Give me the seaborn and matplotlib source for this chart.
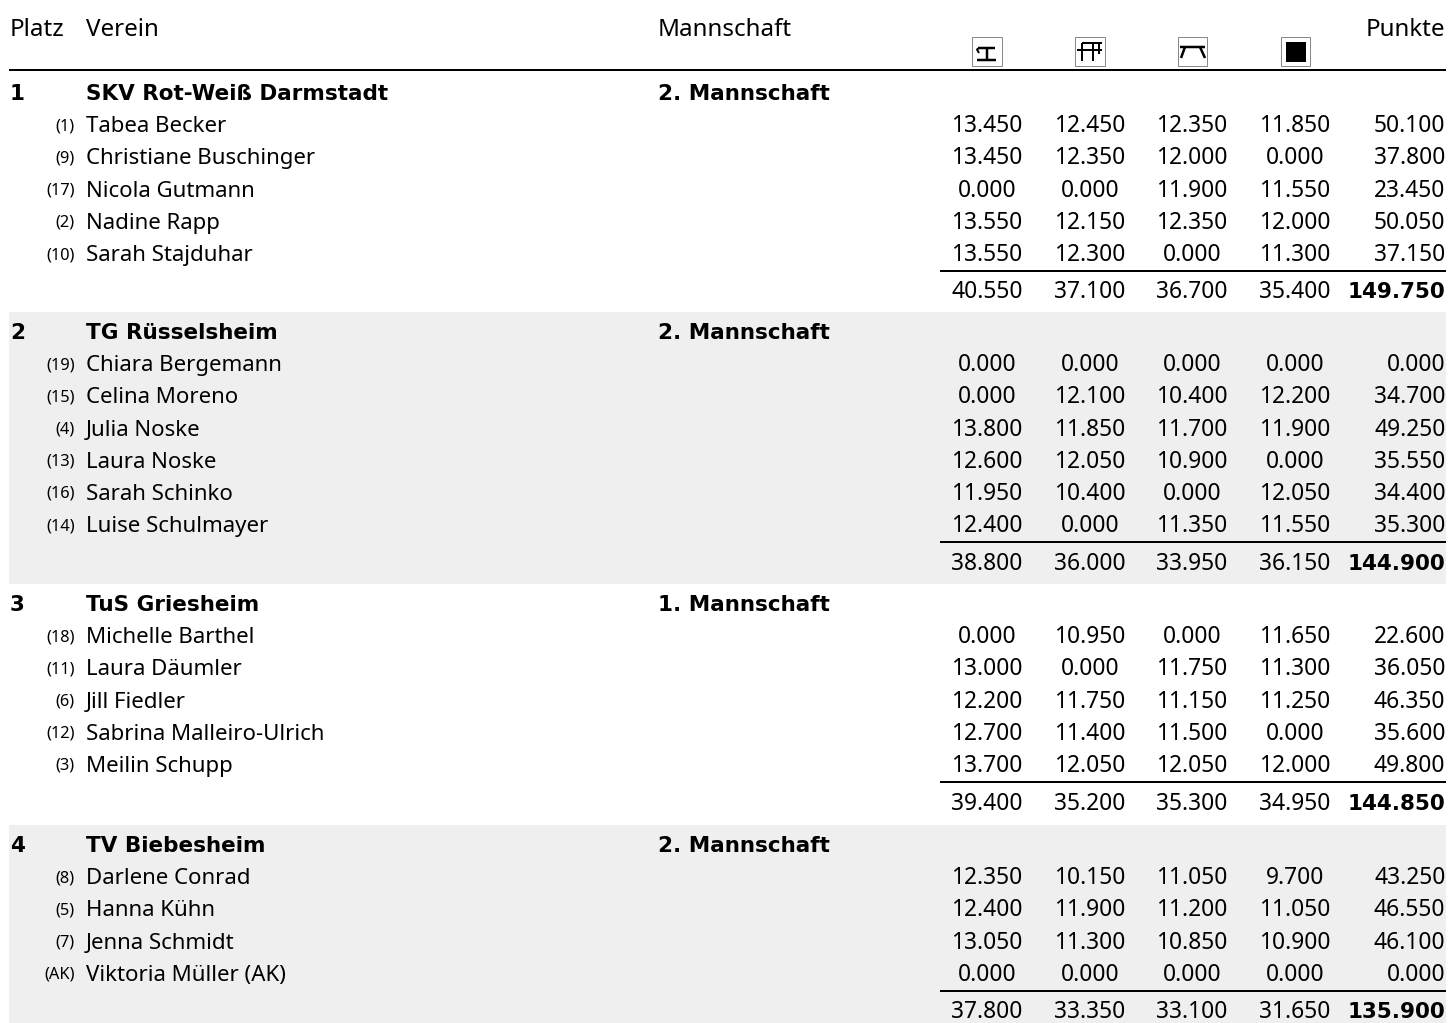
import numpy as np
import pandas as pd
import matplotlib
matplotlib.use('Agg')
import matplotlib.pyplot as plt
from matplotlib.patches import Rectangle
import seaborn as sns

# Mannschaften
places = ['1', '2', '3', '4']
clubs = ['SKV Rot-Weiß Darmstadt', 'TG Rüsselsheim', 'TuS Griesheim', 'TV Biebesheim']
squads = ['2. Mannschaft', '2. Mannschaft', '1. Mannschaft', '2. Mannschaft']

# Turnerinnen je Mannschaft
names_1 = ['Tabea Becker', 'Christiane Buschinger', 'Nicola Gutmann', 'Nadine Rapp', 'Sarah Stajduhar']
ranks_1 = ['(1)', '(9)', '(17)', '(2)', '(10)']
scores_1 = [['13.450', '12.450', '12.350', '11.850', '50.100'],
            ['13.450', '12.350', '12.000', '0.000', '37.800'],
            ['0.000', '0.000', '11.900', '11.550', '23.450'],
            ['13.550', '12.150', '12.350', '12.000', '50.050'],
            ['13.550', '12.300', '0.000', '11.300', '37.150']]
totals_1 = ['40.550', '37.100', '36.700', '35.400', '149.750']

names_2 = ['Chiara Bergemann', 'Celina Moreno', 'Julia Noske', 'Laura Noske', 'Sarah Schinko', 'Luise Schulmayer']
ranks_2 = ['(19)', '(15)', '(4)', '(13)', '(16)', '(14)']
scores_2 = [['0.000', '0.000', '0.000', '0.000', '0.000'],
            ['0.000', '12.100', '10.400', '12.200', '34.700'],
            ['13.800', '11.850', '11.700', '11.900', '49.250'],
            ['12.600', '12.050', '10.900', '0.000', '35.550'],
            ['11.950', '10.400', '0.000', '12.050', '34.400'],
            ['12.400', '0.000', '11.350', '11.550', '35.300']]
totals_2 = ['38.800', '36.000', '33.950', '36.150', '144.900']

names_3 = ['Michelle Barthel', 'Laura Däumler', 'Jill Fiedler', 'Sabrina Malleiro-Ulrich', 'Meilin Schupp']
ranks_3 = ['(18)', '(11)', '(6)', '(12)', '(3)']
scores_3 = [['0.000', '10.950', '0.000', '11.650', '22.600'],
            ['13.000', '0.000', '11.750', '11.300', '36.050'],
            ['12.200', '11.750', '11.150', '11.250', '46.350'],
            ['12.700', '11.400', '11.500', '0.000', '35.600'],
            ['13.700', '12.050', '12.050', '12.000', '49.800']]
totals_3 = ['39.400', '35.200', '35.300', '34.950', '144.850']

names_4 = ['Darlene Conrad', 'Hanna Kühn', 'Jenna Schmidt', 'Viktoria Müller (AK)']
ranks_4 = ['(8)', '(5)', '(7)', '(AK)']
scores_4 = [['12.350', '10.150', '11.050', '9.700', '43.250'],
            ['12.400', '11.900', '11.200', '11.050', '46.550'],
            ['13.050', '11.300', '10.850', '10.900', '46.100'],
            ['0.000', '0.000', '0.000', '0.000', '0.000']]
totals_4 = ['37.800', '33.350', '33.100', '31.650', '135.900']

all_names = [names_1, names_2, names_3, names_4]
all_ranks = [ranks_1, ranks_2, ranks_3, ranks_4]
all_scores = [scores_1, scores_2, scores_3, scores_4]
all_totals = [totals_1, totals_2, totals_3, totals_4]

# Layout in Pixeln
W, H = 1448, 1023
group_y = [92, 331, 603, 844]
band_ranges = [(312, 584), (825, 1023)]
row_h = 32.2
col_x = [987, 1090, 1192, 1295]
total_offset = [36.5, 38, 38, 37]
FONT = 'Noto Sans'
BOLD_FONT = 'DejaVu Sans'
FS_HEAD = 17.4
FS_NAME = 16
FS_NUM = 16.4
FS_BOLD = 15.5
FS_SMALL = 11.8

sns.set_theme(style='white')
plt.rcParams['font.family'] = [FONT, 'DejaVu Sans']

fig = plt.figure(figsize=(W / 100, H / 100), dpi=100)

# Hintergrundstreifen als Heatmap (eine Spalte, eine Zeile pro Pixel)
band = np.zeros((H, 1))
for top, bottom in band_ranges:
    band[top:bottom] = 1
band_ax = fig.add_axes([9 / W, 0, 1437 / W, 1])
sns.heatmap(pd.DataFrame(band), ax=band_ax, cmap=['#ffffff', '#efefef'], vmin=0, vmax=1,
            cbar=False, xticklabels=False, yticklabels=False)

ax = fig.add_axes([0, 0, 1, 1])
ax.set_xlim(0, W)
ax.set_ylim(H, 0)
ax.axis('off')
ax.patch.set_alpha(0)


def txt(x, y, s, size, ha='left', bold=False, up=0):
    # y ist die Zeilenmitte, Grundlinie liegt 8 px darunter
    ax.text(x, y + 8 - up, s, ha=ha, va='baseline', color='black',
            family=[BOLD_FONT] if bold else [FONT, 'DejaVu Sans'],
            fontweight='bold' if bold else 'normal', fontsize=size)


def seg(pts, lw=2.0):
    xs, ys = zip(*pts)
    ax.plot(xs, ys, color='black', lw=lw * 0.72, solid_capstyle='butt')


# Kopfzeile
txt(10, 27.5, 'Platz', FS_HEAD)
txt(86, 27.5, 'Verein', FS_HEAD)
txt(658, 27.5, 'Mannschaft', FS_HEAD)
txt(1445.5, 27.5, 'Punkte', FS_HEAD, ha='right')
seg([(9, 69.5), (1446, 69.5)], lw=2)

# Geräte-Symbole
for x0, x1 in [(972, 1002), (1075, 1105), (1178, 1207), (1281, 1310)]:
    ax.add_patch(Rectangle((x0, 37), x1 - x0, 29, fill=False, ec='#888888', lw=0.72))
seg([(978, 48), (995, 48)], 2.5)
seg([(979, 53), (977, 49.5), (979, 48)], 2)
seg([(987, 48), (987, 60)], 2.5)
seg([(977, 60), (996, 60)], 2.5)
seg([(1082, 43), (1102, 43)], 2)
seg([(1077, 50), (1102, 50)], 2)
seg([(1082, 43), (1082, 61)], 2)
seg([(1093, 43), (1093, 61)], 2)
seg([(1099, 43), (1099, 54)], 2)
seg([(1180, 47), (1205, 47)], 2.5)
seg([(1185, 47), (1181, 58)], 2.5)
seg([(1200, 47), (1205, 58)], 2.5)
ax.add_patch(Rectangle((1286, 42), 20, 20, fc='black', ec='none'))

# Tabelle
for g in range(4):
    y = group_y[g]
    txt(10, y, places[g], FS_BOLD, bold=True)
    txt(86, y, clubs[g], FS_BOLD, bold=True)
    txt(658, y, squads[g], FS_BOLD, bold=True)
    for i, name in enumerate(all_names[g]):
        y = group_y[g] + (i + 1) * row_h
        txt(75, y, all_ranks[g][i], FS_SMALL, ha='right', up=2)
        txt(86, y, name, FS_NAME)
        for j, v in enumerate(all_scores[g][i][:4]):
            txt(col_x[j], y, v, FS_NUM, ha='center')
        txt(1445.5, y, all_scores[g][i][4], FS_NUM, ha='right')
    seg([(940, y + 17.8), (1446, y + 17.8)], lw=2)
    y += total_offset[g]
    for j, v in enumerate(all_totals[g][:4]):
        txt(col_x[j], y, v, FS_NUM, ha='center')
    txt(1445.5, y, all_totals[g][4], FS_BOLD, ha='right', bold=True)

fig.savefig('out.png', dpi=100)
